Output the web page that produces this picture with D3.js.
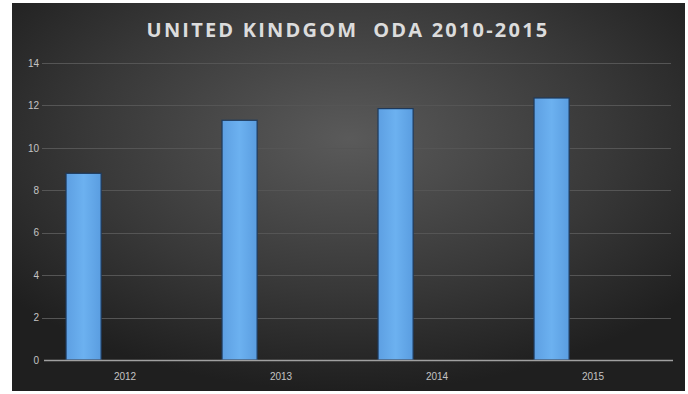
<!DOCTYPE html>
<html><head><meta charset="utf-8">
<script src="https://cdn.jsdelivr.net/npm/d3@7"></script>
<style>html,body{margin:0;padding:0;background:#fff;}svg{display:block;}</style>
</head><body>
<script>
const title = "UNITED KINDGOM  ODA 2010-2015";
const categories = ["2012", "2013", "2014", "2015"];
const odaValues = [8.8, 11.3, 11.85, 12.35];
const yTicks = [0, 2, 4, 6, 8, 10, 12, 14];

const W = 688, H = 394;
const svg = d3.select("body").append("svg").attr("width", W).attr("height", H);
const defs = svg.append("defs");
const rg = defs.append("radialGradient").attr("id", "bg")
  .attr("cx", "50%").attr("cy", "35%").attr("r", "65%");
rg.append("stop").attr("offset", "0%").attr("stop-color", "#5a5a5a");
rg.append("stop").attr("offset", "60%").attr("stop-color", "#383838");
rg.append("stop").attr("offset", "100%").attr("stop-color", "#1f1f1f");
const bg = defs.append("linearGradient").attr("id", "bar").attr("x1", "0").attr("x2", "1").attr("y1", "0").attr("y2", "0");
bg.append("stop").attr("offset", "0%").attr("stop-color", "#5d9fe2");
bg.append("stop").attr("offset", "50%").attr("stop-color", "#6cb1f0");
bg.append("stop").attr("offset", "100%").attr("stop-color", "#5a9de0");

svg.append("rect").attr("x", 12).attr("y", 3).attr("width", 673).attr("height", 388).attr("fill", "url(#bg)");

const x = d3.scaleBand().domain(categories).range([47, 671]);
const y = d3.scaleLinear().domain([0, 14]).range([360, 63]);

// gridlines
svg.append("g").selectAll("line").data(yTicks.filter(d => d > 0)).join("line")
  .attr("x1", 42).attr("x2", 671)
  .attr("y1", d => Math.round(y(d)) + 0.5).attr("y2", d => Math.round(y(d)) + 0.5)
  .attr("stroke", "#555555").attr("stroke-width", 1);

// bars
const bw = x.bandwidth();
svg.append("g").selectAll("rect").data(categories).join("rect")
  .attr("x", d => x(d) + bw * 0.122)
  .attr("width", bw * 0.225)
  .attr("y", (d, i) => y(odaValues[i]))
  .attr("height", (d, i) => y(0) - y(odaValues[i]))
  .attr("fill", "url(#bar)")
  .attr("stroke", "#1e3a5c").attr("stroke-width", 1.2);

// axis line
svg.append("line").attr("x1", 44).attr("x2", 673).attr("y1", 360.5).attr("y2", 360.5)
  .attr("stroke", "#a0a0a0").attr("stroke-width", 1.3);

// y tick labels
const yAxis = d3.axisLeft(y).tickValues(yTicks).tickSize(0).tickPadding(0);
const gy = svg.append("g").attr("transform", "translate(39,0)").call(yAxis);
gy.select(".domain").remove();
gy.selectAll("text").attr("fill", "#c4c4c4").attr("font-family", "Liberation Sans, Arial, sans-serif").attr("font-size", 10);

// x tick labels
const xAxis = d3.axisBottom(x).tickSize(0).tickPadding(0);
const gx = svg.append("g").attr("transform", "translate(0,373)").call(xAxis);
gx.select(".domain").remove();
gx.selectAll("text").attr("fill", "#c4c4c4").attr("font-family", "Liberation Sans, Arial, sans-serif").attr("font-size", 10);

svg.append("text").attr("x", 348).attr("y", 37).attr("text-anchor", "middle")
  .attr("fill", "#dcdcdc").attr("font-family", "Open Sans, DejaVu Sans, sans-serif")
  .attr("font-weight", "bold").attr("font-size", 20).attr("letter-spacing", 2.2)
  .style("white-space", "pre").attr("xml:space", "preserve")
  .text(title);
</script>
</body></html>
